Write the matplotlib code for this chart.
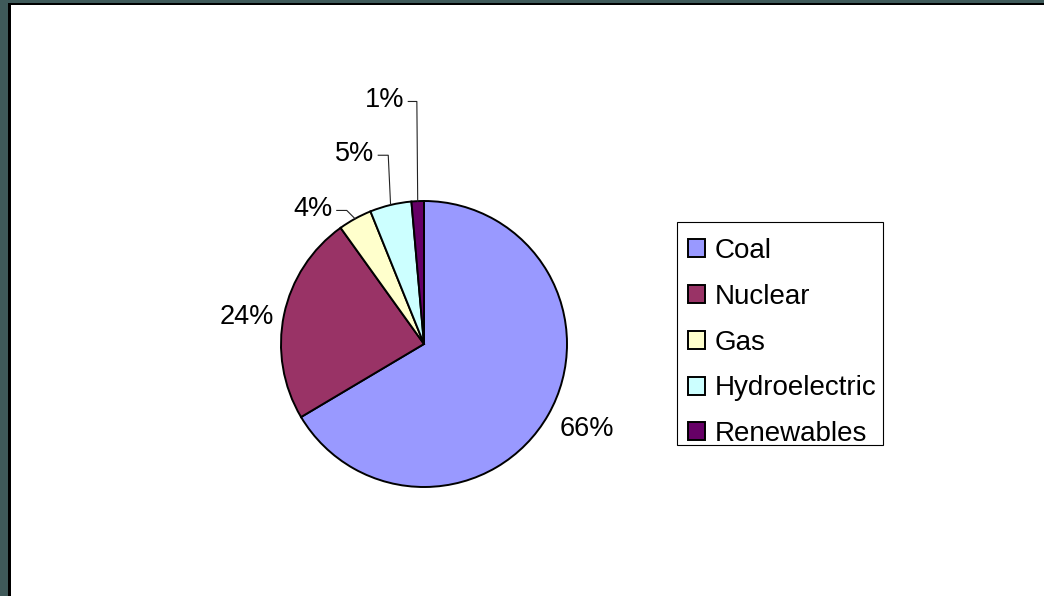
import numpy as np
import matplotlib
matplotlib.use("Agg")
import matplotlib.pyplot as plt
from matplotlib.patches import Rectangle

plt.rcParams["font.family"] = ["Liberation Sans", "DejaVu Sans"]

sources = ["Coal", "Nuclear", "Gas", "Hydroelectric", "Renewables"]
shares = [66.4, 23.6, 3.8, 4.7, 1.4]
colors = ["#9999ff", "#993366", "#ffffcc", "#ccffff", "#660066"]

# label placement (text anchor, in pie-radius units) and leader elbow, None = no leader
label_pos = [(1.14, -0.594), (-1.238, 0.19), (-0.64, 0.944), (-0.35, 1.33), (-0.14, 1.706)]
label_ha = ["center", "center", "right", "right", "right"]
elbows = [None, None, (-0.61, -0.54), (-0.32, -0.25), (-0.11, -0.05)]

W, H = 1044, 596
cx, cy, r = 424, 344, 143

fig = plt.figure(figsize=(W / 100, H / 100), dpi=100)
fig.patch.set_facecolor("#3f5a5a")
fig.patches.append(Rectangle((8 / W, -0.05), 1.1, (H - 3) / H + 0.05, zorder=-10,
                             transform=fig.transFigure, facecolor="black", edgecolor="none"))
fig.patches.append(Rectangle((11 / W, -0.05), 1.1, (H - 5) / H + 0.05, zorder=-9,
                             transform=fig.transFigure, facecolor="white", edgecolor="none"))

ax = fig.add_axes([0, 0, 1, 1])
ax.patch.set_alpha(0)
wedges, _ = ax.pie(shares, colors=colors, startangle=90, counterclock=False,
                   wedgeprops=dict(edgecolor="black", linewidth=1.4))
ax.set_xlim(-cx / r, (W - cx) / r)
ax.set_ylim((cy - H) / r, cy / r)
ax.axis("off")

for w, val, pos, ha, elb in zip(wedges, shares, label_pos, label_ha, elbows):
    ax.text(pos[0], pos[1], f"{round(val)}%", fontsize=19.5, ha=ha, va="center")
    if elb is not None:
        mid = np.deg2rad((w.theta1 + w.theta2) / 2)
        ex, ey = np.cos(mid), np.sin(mid)
        ax.plot([elb[0], elb[1], ex], [pos[1] - 0.01, pos[1] - 0.01, ey],
                color="#222222", lw=0.8)

# legend box drawn separately so the entries sit centred like the original
fig.patches.append(Rectangle((677 / W, 1 - 445 / H), 206 / W, 223 / H, zorder=-8,
                             transform=fig.transFigure, facecolor="white",
                             edgecolor="black", linewidth=0.8))
leg = ax.legend(wedges, sources, loc="upper left",
                bbox_to_anchor=(677 / W, 1 - 227 / H), bbox_transform=fig.transFigure,
                fontsize=20, frameon=False, borderpad=0.4,
                labelspacing=0.71, handlelength=0.62, handleheight=0.62,
                handletextpad=0.33, borderaxespad=0)

fig.savefig("out.png", dpi=100, facecolor=fig.get_facecolor())
